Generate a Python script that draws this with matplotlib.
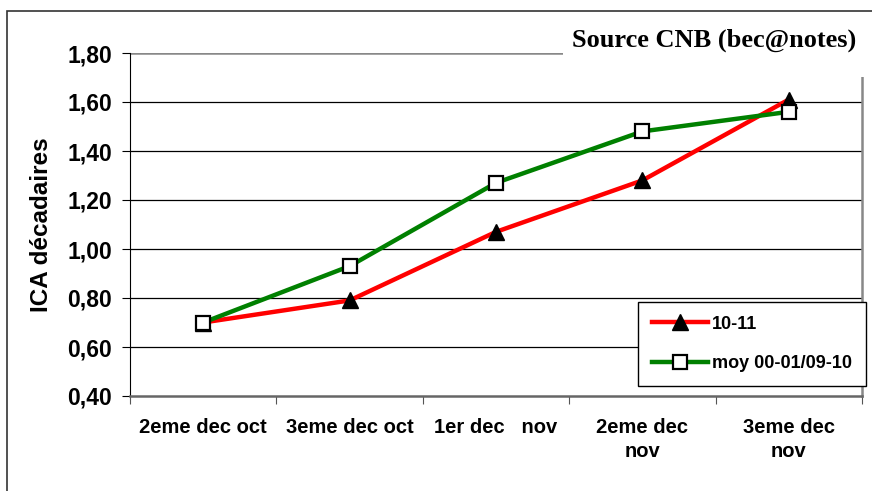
import numpy as np
import matplotlib.pyplot as plt
from matplotlib.patches import Rectangle

categories = ["2eme dec oct", "3eme dec oct", "1er dec   nov", "2eme dec\nnov", "3eme dec\nnov"]
serie_1011 = [0.70, 0.79, 1.07, 1.28, 1.61]
serie_moy = [0.70, 0.93, 1.27, 1.48, 1.56]
yticks = [0.40, 0.60, 0.80, 1.00, 1.20, 1.40, 1.60, 1.80]

W, H = 872, 491
fig = plt.figure(figsize=(W / 100, H / 100), dpi=100)

# outer frame of the chart
fig.patches.append(Rectangle((7 / W, -0.1), 1.2, 1 - 11 / H + 0.1,
                             transform=fig.transFigure, fill=False,
                             edgecolor="#333333", linewidth=1.2))

ax = fig.add_axes([130 / W, 1 - 396 / H, (862 - 130) / W, (396 - 53) / H])

x = np.arange(len(categories)) + 0.5
ax.plot(x, serie_1011, color="#ff0000", linewidth=3.2, marker="^",
        markersize=11, markerfacecolor="black", markeredgecolor="black",
        label="10-11", zorder=3)
ax.plot(x, serie_moy, color="#008000", linewidth=3.2, marker="s",
        markersize=10, markerfacecolor="white", markeredgecolor="black",
        markeredgewidth=1.6, label="moy 00-01/09-10", zorder=4)

ax.set_xlim(0, len(categories))
ax.set_ylim(0.40, 1.80)
ax.set_yticks(yticks)
ax.set_yticklabels([f"{v:.2f}".replace(".", ",") for v in yticks],
                   fontsize=16.5, fontweight="bold", family="Liberation Sans")
for v in yticks[1:]:
    ax.axhline(v, color="black" if v < 1.79 else "#888888",
               linewidth=0.9 if v < 1.79 else 1.8, zorder=1)

ax.set_xticks(np.arange(len(categories) + 1))
ax.set_xticklabels([])
ax.set_xticks(x, minor=True)
ax.set_xticklabels(categories, minor=True, fontsize=14.5, fontweight="bold",
                   family="Liberation Sans", linespacing=1.3, va="top")
ax.tick_params(axis="x", which="minor", length=0, pad=16)
ax.tick_params(axis="x", which="major", length=6, color="#555555", direction="out")
ax.tick_params(axis="y", length=6, direction="out", pad=7)

ax.spines["top"].set_visible(False)
ax.spines["left"].set_color("black")
ax.spines["bottom"].set_color("#666666")
ax.spines["bottom"].set_linewidth(1.8)
ax.spines["right"].set_color("#888888")
ax.spines["right"].set_linewidth(1.8)

ax.set_ylabel("ICA décadaires", fontsize=17.5, fontweight="bold",
              family="Liberation Sans", labelpad=10)

# title box covering the top right of the plot area
fig.patches.append(Rectangle((563 / W, 1 - 77 / H), 310 / W, 50 / H,
                             transform=fig.transFigure, facecolor="white",
                             edgecolor="none", zorder=5))
fig.text(714 / W, 1 - 40 / H, "Source CNB (bec@notes)", ha="center", va="center",
         fontsize=19, fontweight="bold", family="Liberation Serif", zorder=6)

leg = ax.legend(loc="upper left", bbox_to_anchor=(638 / W, 1 - 302 / H),
                bbox_transform=fig.transFigure, frameon=True, fancybox=False,
                edgecolor="black", framealpha=1, borderpad=0.75, borderaxespad=0,
                labelspacing=1.25, handlelength=3.1, handletextpad=0.25,
                prop={"family": "Liberation Sans", "weight": "bold", "size": 13})
leg.get_frame().set_linewidth(1.0)
leg.set_zorder(7)

fig.savefig("out.png", dpi=100)
